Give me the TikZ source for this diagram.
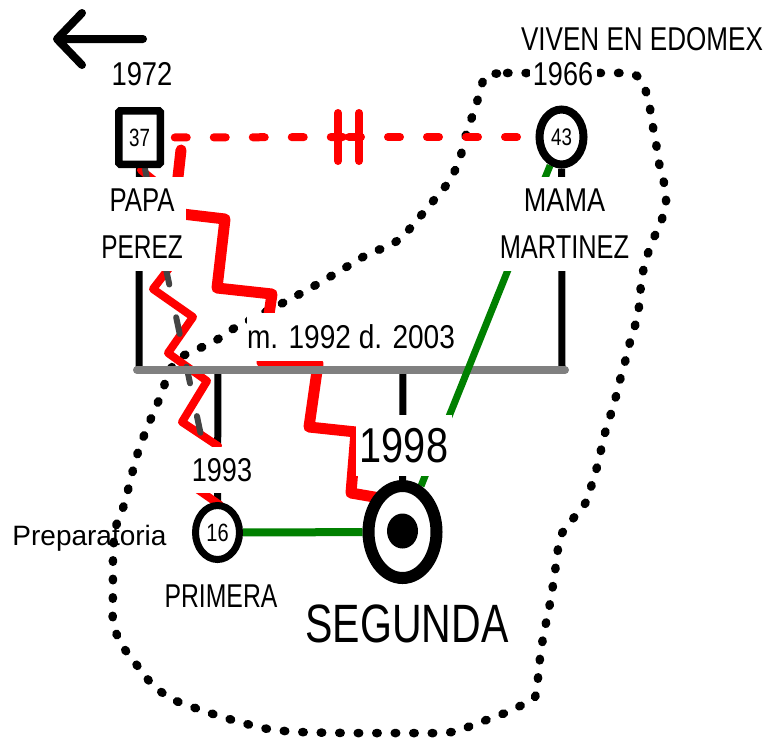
\documentclass[tikz,border=0pt]{standalone}
\usepackage{fontspec}
\setmainfont{Liberation Sans}
\usetikzlibrary{shapes.geometric}
\pgfdeclarelayer{bg}
\pgfsetlayers{bg,main}
\definecolor{rd}{RGB}{255,0,0}
\definecolor{gn}{RGB}{0,128,0}
\definecolor{gy}{RGB}{128,128,128}
\definecolor{dg}{RGB}{68,68,68}
\begin{document}
\begin{tikzpicture}[x=1pt,y=-1pt,
  ring/.style={draw=black,ellipse,fill=white,inner sep=0pt,line width=8pt,font=\fontsize{25}{25}\selectfont},
  sqbox/.style={draw=black,rectangle,fill=white,inner sep=0pt,line width=7.5pt,rounded corners=1.5pt,minimum width=41.5pt,minimum height=53.5pt,font=\fontsize{25}{25}\selectfont},
  lab/.style={fill=white,inner sep=0pt,align=center,font=\fontsize{33}{47}\selectfont},
  txt/.style={inner sep=0pt,anchor=base,font=\fontsize{33}{40}\selectfont},
  vline/.style={draw=black,line width=7pt},
  hostile/.style={draw=rd,line join=round,line cap=round},
  dotline/.style={draw=black,line width=8.5pt,line cap=round,dash pattern=on 1.5pt off 17pt},
  ]
\useasboundingbox (0,0) rectangle (767,740);

% ---- persons ----
\node[sqbox] (sq) at (139.5,137.5) {\scalebox{0.75}[1]{37}};
\node[ring,minimum width=44pt,minimum height=55pt,font=\fontsize{24}{24}\selectfont] (m43) at (561.5,137) {\scalebox{0.78}[1]{43}};
\node[ring,line width=7pt,minimum width=44pt,minimum height=54pt] (c16) at (217.5,532.5) {\scalebox{0.8}[1]{16}};
\node[ring,line width=12pt,minimum width=68pt,minimum height=92pt] (seg) at (402.5,532) {};
\node[ellipse,fill=black,inner sep=0pt,minimum width=31pt,minimum height=35pt] (segin) at (402.5,531) {};

% ---- labels with white boxes ----
\node[lab,minimum width=67pt,minimum height=30pt] (l1966) at (563,74) {\scalebox{0.82}[1]{1966}};
\node[lab,minimum width=88pt,minimum height=94pt] (lpapa) at (142,224) {\scalebox{0.78}[1]{PAPA}\\\scalebox{0.74}[1]{PEREZ}};
\node[lab,minimum width=134pt,minimum height=94pt] (lmama) at (564.5,224) {\scalebox{0.82}[1]{MAMA}\\\scalebox{0.77}[1]{MARTINEZ}};
\node[lab,minimum width=208pt,minimum height=48pt] (lm) at (351,337) {\scalebox{0.85}[1]{m. 1992 d. 2003}};
\node[lab,minimum width=70pt,minimum height=46pt] (l1993) at (222,470) {\scalebox{0.82}[1]{1993}};
\node[lab,font=\fontsize{49}{49}\selectfont,minimum width=96pt,minimum height=61pt] (l1998) at (404,445.5) {\scalebox{0.81}[1]{1998}};

% ---- free texts ----
\node[txt] (t1972) at (142,85) {\scalebox{0.83}[1]{1972}};
\node[txt] (tviv) at (642,50) {\scalebox{0.79}[1]{VIVEN EN EDOMEX}};
\node[txt] (tprim) at (221,607) {\scalebox{0.75}[1]{PRIMERA}};
\node[txt,font=\fontsize{54}{54}\selectfont] (tseg) at (407,642) {\scalebox{0.76}[1]{SEGUNDA}};
\node[txt,font=\fontsize{28}{28}\selectfont] (tprep) at (89.5,545) {Preparatoria};

% ---- back arrow ----
\coordinate (ar) at (57,39);
\coordinate (arEnd) at (143,39);
\draw[line width=8pt,line cap=round,line join=round] (82,13) -- (ar) -- (82,65) (ar) -- (arEnd);

% ---- connectors ----
\coordinate (jl) at (139,370);
\coordinate (jr) at (562,370);
\coordinate (jc1) at (218,370);
\coordinate (jc2) at (403,370);
\coordinate (mL) at (137,370);
\coordinate (mR) at (565,370);
\coordinate (dv) at (349,137);
\coordinate (dv1) at (338,137);
\coordinate (dv2) at (359,137);

\begin{pgfonlayer}{bg}
  % dotted household boundary
  \draw[dotline] plot[smooth cycle,tension=0.5] coordinates {
    (487,75) (507,73) (523,73) (563,73) (603,73) (633,74) (643,84) (649,103)
    (652,122) (656,143) (659,163) (664,183) (666,202) (661,222) (652,242)
    (645,263) (641,283) (640,300) (636,322) (630,342) (625,362) (620,380)
    (615,400) (609,420) (603,440) (599,460) (593,480) (586,502) (572,520)
    (560,537) (557,558) (554,578) (551,598) (547,618) (543,638) (540,658)
    (538,678) (535,697) (520,706) (505,713) (489,719) (473,725) (457,731)
    (440,733) (400,733) (350,733) (300,732) (268,729) (236,721) (204,711)
    (172,699) (152,684) (136,664) (120,642) (113,620) (113,590) (113,560)
    (115,530) (123,508) (128,490) (133,470) (139,449) (147,428) (155,409)
    (163,390) (168,373) (180,358) (195,350) (212,343) (228,332) (242,324)
    (277,306) (307,290) (338,272) (370,253) (387,247) (402,237) (418,219)
    (434,200) (450,180) (460,158) (465,138) (471,120) (477,102) (482,84)};
  % parent and child lines
  \draw[vline] (sq.south) -- (jl);
  \draw[vline] (m43.south) -- (jr);
  \draw[vline] (jc1) -- (c16.north);
  \draw[vline] (jc2) -- (seg.north);
  % hostile relations (zigzags)
  \draw[hostile,line width=11pt] (181,150) -- (174,213) -- (225,219) -- (217,288)
    -- (272,294) -- (262,362) -- (318,364) -- (309,427) -- (356,432)
    -- (351,493) -- (380,498);
  \draw[hostile,line width=8pt] (141,170) -- (166,190) -- (143,228) -- (180,254)
    -- (153,289) -- (193,317) -- (168,353) -- (207,381) -- (182,422)
    -- (218,446) -- (197,489) -- (220,505);
  \draw[dg,line width=6pt,line cap=round,dash pattern=on 17pt off 33.5pt] (145,169) -- (215,502);
  % marriage line
  \draw[gy,line width=8pt,line cap=round] (mL) -- (mR);
  % close relations
  \draw[gn,line width=7pt] (m43) -- (seg);
  \draw[gn,line width=8pt] (c16) -- (seg);
  % broken couple line with divorce marks
  \draw[rd,line width=8pt,line cap=round,dash pattern=on 12pt off 27pt,shorten <=10.75pt] (sq.east) -- (dv);
  \draw[rd,line width=8pt,line cap=round,dash pattern=on 12pt off 27pt,shorten <=18.5pt] (m43.west) -- (dv);
  \draw[rd,line width=8pt,line cap=round] (338,113) -- (dv1) -- (338,161);
  \draw[rd,line width=8pt,line cap=round] (359,113) -- (dv2) -- (359,161);
\end{pgfonlayer}
\end{tikzpicture}
\end{document}
